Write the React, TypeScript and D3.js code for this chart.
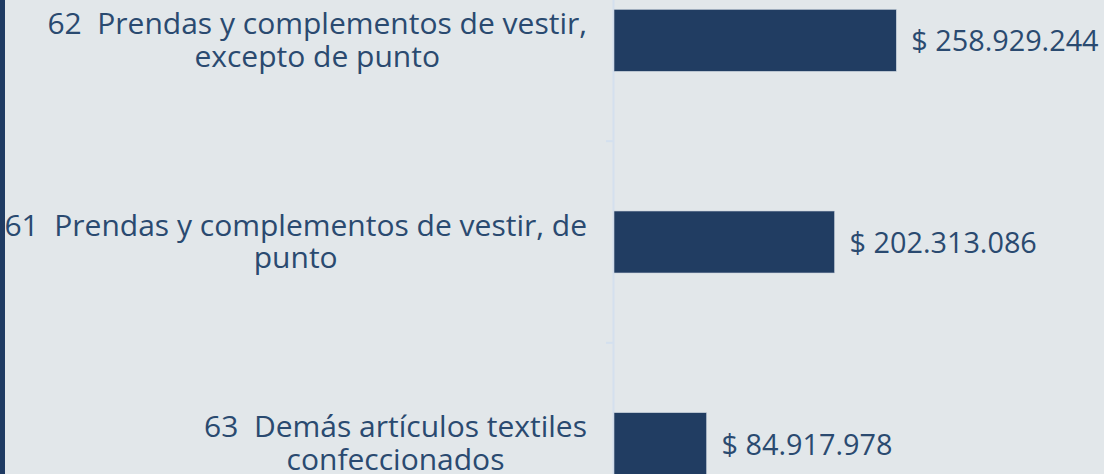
import React, { useEffect, useRef } from "react";
import * as d3 from "d3";

const categories = ["62", "61", "63"];
const labelLines = [
  ["62  Prendas y complementos de vestir,", "excepto de punto"],
  ["61  Prendas y complementos de vestir, de", "punto"],
  ["63  Demás artículos textiles", "confeccionados"],
];
const values = [258929244, 202313086, 84917978];

const W = 1104;
const H = 474;

export default function App() {
  const ref = useRef<SVGSVGElement | null>(null);

  useEffect(() => {
    const svg = d3.select(ref.current);
    svg.selectAll("*").remove();

    const font = "'Open Sans', sans-serif";
    const textColor = "#2a4a70";
    const barColor = "#213d62";
    const axisColor = "#d4e0ee";

    svg.append("rect").attr("width", W).attr("height", H).attr("fill", "#e2e7ea");
    svg.append("rect").attr("x", 0).attr("y", 0).attr("width", 5).attr("height", H).attr("fill", "#1f3b63");

    const y = d3
      .scaleBand<string>()
      .domain(categories)
      .range([-60.5, 544.5])
      .paddingInner(0.6926)
      .paddingOuter(0.3463);

    const x = d3.scaleLinear().domain([0, values[0]]).range([614, 896.3]);

    const step = y.step();
    const bw = y.bandwidth();

    // axis line
    svg
      .append("line")
      .attr("x1", 613.5)
      .attr("x2", 613.5)
      .attr("y1", 0)
      .attr("y2", H)
      .attr("stroke", axisColor)
      .attr("stroke-width", 2);

    // ticks at category boundaries
    const bounds = categories.slice(1).map((c) => (y(c) as number) - (step - bw) / 2);
    svg
      .selectAll("line.tick")
      .data(bounds)
      .join("line")
      .attr("class", "tick")
      .attr("x1", 606)
      .attr("x2", 613)
      .attr("y1", (d) => d)
      .attr("y2", (d) => d)
      .attr("stroke", axisColor)
      .attr("stroke-width", 2);

    // bars
    svg
      .selectAll("rect.bar")
      .data(values)
      .join("rect")
      .attr("class", "bar")
      .attr("x", x(0))
      .attr("y", (_, i) => y(categories[i]) as number)
      .attr("width", (d) => x(d) - x(0))
      .attr("height", bw)
      .attr("fill", barColor)
      .attr("stroke", "#c9d2dc")
      .attr("stroke-width", 0.6);

    const fmt = (v: number) => "$ " + d3.format(",")(v).replace(/,/g, ".");

    // value labels
    svg
      .selectAll("text.val")
      .data(values)
      .join("text")
      .attr("class", "val")
      .attr("x", (d) => x(d) + 15)
      .attr("y", (_, i) => (y(categories[i]) as number) + bw / 2 + 11)
      .attr("font-family", font)
      .attr("font-size", 28.8)
      .attr("fill", textColor)
      .text((d) => fmt(d));

    // category labels
    const rightEdge = 587;
    const lineH = 32.5;
    labelLines.forEach((lines, i) => {
      const cy = (y(categories[i]) as number) + bw / 2;
      const g = svg.append("g");
      const texts = lines.map((ln, j) =>
        g
          .append("text")
          .attr("y", cy + (j - (lines.length - 1) / 2) * lineH + 10)
          .attr("font-family", font)
          .attr("font-size", 30)
          .attr("fill", textColor)
          .attr("text-anchor", "middle")
          .attr("xml:space", "preserve")
          .style("white-space", "pre")
          .text(ln)
      );
      const widths = texts.map((t) => (t.node() as SVGTextElement).getComputedTextLength());
      const bw2 = Math.max(...widths);
      texts.forEach((t) => t.attr("x", rightEdge - bw2 / 2));
    });
  }, []);

  return (
    <svg
      ref={ref}
      width={W}
      height={H}
      style={{ position: "fixed", left: 0, top: 0, display: "block" }}
    />
  );
}
